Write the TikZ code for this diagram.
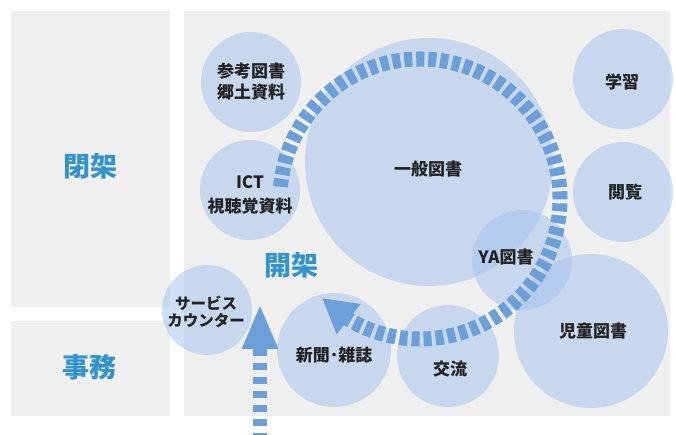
\documentclass[tikz,border=0pt]{standalone}
\usepackage{fontspec}
\setmainfont{Noto Sans CJK JP}
\usetikzlibrary{arrows.meta}
\definecolor{panel}{HTML}{EFEFEF}
\definecolor{bub}{RGB}{160,194,238}
\definecolor{dashc}{HTML}{6C9ED8}
\definecolor{lbl}{HTML}{3393CD}
\definecolor{txt}{HTML}{222222}
\begin{document}
\begin{tikzpicture}[x=1pt,y=-1pt,
  panelbox/.style={fill=panel},
  bubble/.style={circle, fill=bub, fill opacity=0.5, draw=none, inner sep=0pt, minimum size=#1},
  ctext/.style={text=txt, align=center, font=\bfseries\fontsize{17}{21}\selectfont},
  area/.style={text=lbl, font=\bfseries\fontsize{27}{30}\selectfont},
  flow/.style={draw=dashc, line width=15pt, dash pattern=on 8pt off 4pt},
  vflow/.style={draw=dashc, line width=14pt, dash pattern=on 7pt off 7pt}]
\useasboundingbox (0,0) rectangle (676,435);
\fill[white] (0,0) rectangle (676,435);
% panels
\fill[panelbox] (11,11) rectangle (170,307);
\fill[panelbox] (11,321) rectangle (170,416);
\fill[panelbox] (184,11) rectangle (670,416);
% bubbles
\node[bubble=100pt] (sanko) at (251,82) {};
\node[bubble=100pt] (ict) at (250,190) {};
\node[bubble=248pt] (ippan) at (429,162) {};
\node[bubble=100pt] (gaku) at (623,79) {};
\node[bubble=100pt] (etsu) at (623,192) {};
\node[bubble=100pt] (ya) at (522,260) {};
\node[bubble=154pt] (jido) at (591,331) {};
\node[bubble=102pt] (koryu) at (448,356) {};
\node[bubble=114pt] (shinbun) at (334,350) {};
\node[bubble=90pt] (service) at (207,310) {};
% texts
\node[ctext] (tsanko) at (251,82) {参考図書\\郷土資料};
\node[ctext, font=\bfseries\fontsize{17}{24}\selectfont] (tict) at (250,195) {ICT\\視聴覚資料};
\node[ctext] (tippan) at (428,169) {一般図書};
\node[ctext] (tgaku) at (622,82) {学習};
\node[ctext] (tetsu) at (625,192) {閲覧};
\node[ctext] (tya) at (506,257) {YA図書};
\node[ctext] (tjido) at (593,331) {児童図書};
\node[ctext] (tkoryu) at (450,369) {交流};
\node[ctext] (tshinbun) at (334,355) {新聞･雑誌};
\node[ctext, font=\bfseries\fontsize{15.5}{17}\selectfont] (tservice) at (206,312) {サービス\\カウンター};
\node[area] (heika) at (90,166) {閉架};
\node[area] (kaika) at (291,265) {開架};
\node[area] (jimu) at (89,367) {事務};
% flows
\coordinate (arcc) at (420,199);
\coordinate (arctip) at (322,298);
\draw[flow, -{Triangle[length=34pt,width=36pt]}] (arcc) ++(185:140) arc[start angle=185, end angle=480, radius=140] -- (arctip);
\coordinate (vbot) at (260,440);
\coordinate (vtip) at (260,304);
\draw[vflow, -{Triangle[length=45pt,width=33pt]}] (vbot) -- (vtip);
\end{tikzpicture}
\end{document}
